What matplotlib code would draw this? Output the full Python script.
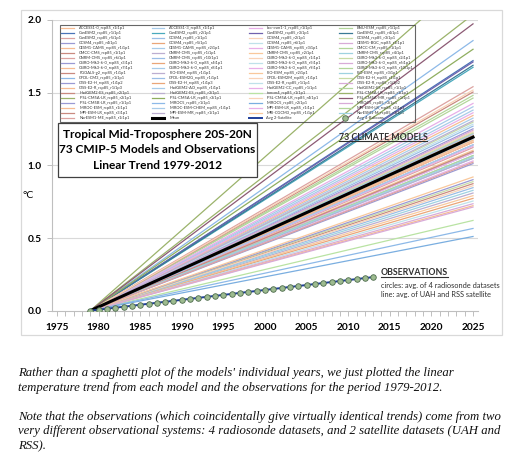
import numpy as np
import matplotlib
matplotlib.use("Agg")
import matplotlib.pyplot as plt
from matplotlib.lines import Line2D
from matplotlib.patches import Rectangle

# ---------------- data ----------------
model_names = [
    "ACCESS1-0_rcp85_r1i1p1", "ACCESS1-3_rcp85_r1i1p1", "bcc-csm1-1_rcp85_r1i1p1", "BNU-ESM_rcp85_r1i1p1",
    "CanESM2_rcp85_r1i1p1", "CanESM2_rcp85_r2i1p1", "CanESM2_rcp85_r3i1p1", "CanESM2_rcp85_r4i1p1",
    "CanESM2_rcp85_r5i1p1", "CCSM4_rcp85_r1i1p1", "CCSM4_rcp85_r2i1p1", "CCSM4_rcp85_r3i1p1",
    "CCSM4_rcp85_r4i1p1", "CCSM4_rcp85_r5i1p1", "CCSM4_rcp85_r6i1p1", "CESM1-BGC_rcp85_r1i1p1",
    "CESM1-CAM5_rcp85_r1i1p1", "CESM1-CAM5_rcp85_r2i1p1", "CESM1-CAM5_rcp85_r3i1p1", "CMCC-CM_rcp85_r1i1p1",
    "CMCC-CMS_rcp85_r1i1p1", "CNRM-CM5_rcp85_r1i1p1", "CNRM-CM5_rcp85_r2i1p1", "CNRM-CM5_rcp85_r4i1p1",
    "CNRM-CM5_rcp85_r6i1p1", "CNRM-CM5_rcp85_r10i1p1", "CSIRO-Mk3-6-0_rcp85_r1i1p1", "CSIRO-Mk3-6-0_rcp85_r2i1p1",
    "CSIRO-Mk3-6-0_rcp85_r3i1p1", "CSIRO-Mk3-6-0_rcp85_r4i1p1", "CSIRO-Mk3-6-0_rcp85_r5i1p1", "CSIRO-Mk3-6-0_rcp85_r6i1p1",
    "CSIRO-Mk3-6-0_rcp85_r7i1p1", "CSIRO-Mk3-6-0_rcp85_r8i1p1", "CSIRO-Mk3-6-0_rcp85_r9i1p1", "CSIRO-Mk3-6-0_rcp85_r10i1p1",
    "FGOALS-g2_rcp85_r1i1p1", "FIO-ESM_rcp85_r1i1p1", "FIO-ESM_rcp85_r2i1p1", "FIO-ESM_rcp85_r3i1p1",
    "GFDL-CM3_rcp85_r1i1p1", "GFDL-ESM2G_rcp85_r1i1p1", "GFDL-ESM2M_rcp85_r1i1p1", "GISS-E2-H_rcp85_r1i1p1",
    "GISS-E2-H_rcp85_r1i1p2", "GISS-E2-H_rcp85_r1i1p3", "GISS-E2-R_rcp85_r1i1p1", "GISS-E2-R_rcp85_r1i1p2",
    "GISS-E2-R_rcp85_r1i1p3", "HadGEM2-AO_rcp85_r1i1p1", "HadGEM2-CC_rcp85_r1i1p1", "HadGEM2-ES_rcp85_r1i1p1",
    "HadGEM2-ES_rcp85_r2i1p1", "HadGEM2-ES_rcp85_r3i1p1", "inmcm4_rcp85_r1i1p1", "IPSL-CM5A-LR_rcp85_r1i1p1",
    "IPSL-CM5A-LR_rcp85_r2i1p1", "IPSL-CM5A-LR_rcp85_r3i1p1", "IPSL-CM5A-LR_rcp85_r4i1p1", "IPSL-CM5A-MR_rcp85_r1i1p1",
    "IPSL-CM5B-LR_rcp85_r1i1p1", "MIROC5_rcp85_r1i1p1", "MIROC5_rcp85_r2i1p1", "MIROC5_rcp85_r3i1p1",
    "MIROC-ESM_rcp85_r1i1p1", "MIROC-ESM-CHEM_rcp85_r1i1p1", "MPI-ESM-LR_rcp85_r1i1p1", "MPI-ESM-LR_rcp85_r2i1p1",
    "MPI-ESM-LR_rcp85_r3i1p1", "MPI-ESM-MR_rcp85_r1i1p1", "MRI-CGCM3_rcp85_r1i1p1", "NorESM1-M_rcp85_r1i1p1",
    "NorESM1-ME_rcp85_r1i1p1",
]

model_trends = [
    0.262, 0.288, 0.224, 0.318,
    0.374, 0.364, 0.372, 0.367,
    0.335, 0.276, 0.268, 0.282,
    0.272, 0.265, 0.279, 0.258,
    0.292, 0.300, 0.296, 0.238,
    0.252, 0.236, 0.240, 0.232,
    0.244, 0.228, 0.254, 0.266,
    0.248, 0.262, 0.256, 0.270,
    0.252, 0.264, 0.246, 0.260,
    0.190, 0.176, 0.172, 0.180,
    0.404, 0.184, 0.187, 0.193,
    0.196, 0.168, 0.164, 0.160,
    0.157, 0.305, 0.310, 0.322,
    0.327, 0.284, 0.135, 0.504,
    0.443, 0.391, 0.330, 0.429,
    0.220, 0.123, 0.111, 0.155,
    0.255, 0.248, 0.236, 0.232,
    0.238, 0.228, 0.200, 0.230,
    0.222,
]

mean_label = "Mean"
satellite_label = "Avg 2-Satellite"
balloon_label = "Avg 4-Balloons"
satellite_trend = 0.068   # deg C per decade
balloon_trend = 0.068     # deg C per decade
obs_years = list(range(1979, 2014))
start_year = 1979
end_year = 2025

x_ticks = [1975, 1980, 1985, 1990, 1995, 2000, 2005, 2010, 2015, 2020, 2025]
y_ticks = [0.0, 0.5, 1.0, 1.5, 2.0]
y_ticklabels = ["0.0", "0.5", "1.0", "1.5", "2.0"]

title_lines = ["Tropical Mid-Troposphere 20S-20N",
               "73 CMIP-5 Models and Observations",
               "Linear Trend 1979-2012"]
caption_lines = [
    "Rather than a spaghetti plot of the models' individual years, we just plotted the linear",
    "temperature trend from each model and the observations for the period 1979-2012.",
    "Note that the observations (which coincidentally give virtually identical trends) come from two",
    "very different observational systems: 4 radiosonde datasets, and 2 satellite datasets (UAH and",
    "RSS).",
]

# ---------------- style ----------------
palette = ['#f6bc94', '#a8cbe9', '#e8afe8', '#b3d69b', '#c98a80', '#bcaed0',
           '#f9c89c', '#9fd2e0', '#dca3a1', '#9abde6', '#f9d3b8', '#c8dba6',
           '#9a9ad4', '#eaa678', '#bfe1ea', '#d8abd8']
colors = [palette[i % len(palette)] for i in range(len(model_names))]
special = {
    "CanESM2_rcp85_r1i1p1": '#4a74b8', "CanESM2_rcp85_r2i1p1": '#4aaabd',
    "CanESM2_rcp85_r3i1p1": '#7062ae', "CanESM2_rcp85_r4i1p1": '#3a7a96',
    "GFDL-CM3_rcp85_r1i1p1": '#8db9e8', "inmcm4_rcp85_r1i1p1": '#b9e3a3',
    "IPSL-CM5A-LR_rcp85_r1i1p1": '#9bb36b', "IPSL-CM5A-LR_rcp85_r2i1p1": '#9bb36b',
    "IPSL-CM5A-LR_rcp85_r3i1p1": '#8fae5f', "IPSL-CM5A-MR_rcp85_r1i1p1": '#8c5a74',
    "MIROC5_rcp85_r1i1p1": '#8db9e8', "MIROC5_rcp85_r2i1p1": '#7aaee0',
}
for i, n in enumerate(model_names):
    if n in special:
        colors[i] = special[n]

W, H = 519, 465
fig = plt.figure(figsize=(W / 100, H / 100), dpi=100)
fig.patch.set_facecolor('white')

# outer chart border
fig.patches.append(Rectangle((21 / W, 1 - 335 / H), 481 / W, 325 / H, transform=fig.transFigure,
                             fill=False, ec='#d9d9d9', lw=0.9))

ax = fig.add_axes([52 / W, 1 - 310.7 / H, 426 / W, 290.7 / H])
ax.set_xlim(1974.4, 2025.6)
ax.set_ylim(0, 2.0)

sans = ['Lato', 'DejaVu Sans']

xs = np.array([start_year, end_year], dtype=float)
handles = []
for name, t, c in zip(model_names, model_trends, colors):
    h, = ax.plot(xs, t / 10.0 * (xs - start_year), color=c, lw=0.9, zorder=2, label=name)
    handles.append(h)

mean_trend = float(np.mean(model_trends))
h_mean, = ax.plot(xs, mean_trend / 10.0 * (xs - start_year), color='black', lw=2.2, zorder=3,
                  label=mean_label)

oy = np.array(obs_years, dtype=float)
h_sat, = ax.plot(oy, satellite_trend / 10.0 * (oy - start_year), color='#1f3f9a', lw=1.4, zorder=4,
                 label=satellite_label)
h_bal, = ax.plot(oy, balloon_trend / 10.0 * (oy - start_year), ls='none', marker='o', ms=4.0,
                 mfc='#9dbb8f', mec='#4d6b4d', mew=0.6, zorder=5, label=balloon_label)

# grid / axes
for y in y_ticks[1:]:
    ax.axhline(y, color='#d9d9d9', lw=0.8, zorder=0)
for s in ['top', 'right']:
    ax.spines[s].set_visible(False)
ax.spines['left'].set_color('#bfbfbf')
ax.spines['bottom'].set_color('#bfbfbf')
ax.spines['left'].set_linewidth(0.8)
ax.spines['bottom'].set_linewidth(0.8)

ax.set_xticks(x_ticks)
ax.set_xticks(range(1975, 2026), minor=True)
ax.set_xticklabels([str(v) for v in x_ticks], fontsize=7.3, fontweight='bold', family=sans)
ax.set_yticks(y_ticks)
ax.set_yticklabels(y_ticklabels, fontsize=7.3, fontweight='bold', family=sans)
ax.tick_params(axis='x', which='both', direction='out', length=3.5, color='#bfbfbf', width=0.7, pad=5)
ax.tick_params(axis='y', which='major', direction='out', length=3.5, color='#bfbfbf', width=0.7, pad=4)

ax.text(-0.056, 0.3946, "°C", transform=ax.transAxes, fontsize=7.5, family=sans,
        ha='center', va='center')

# legend (row-major order like the original)
all_h = handles + [h_mean, h_sat, h_bal]
ncol = 4
nrow = int(np.ceil(len(all_h) / ncol))
ordered = []
for c in range(ncol):
    for r in range(nrow):
        k = r * ncol + c
        if k < len(all_h):
            ordered.append(all_h[k])
leg = ax.legend(handles=ordered, labels=[h.get_label() for h in ordered], ncol=ncol,
                loc='upper left', bbox_to_anchor=(0.0188, 0.0, 0.833, 0.983), mode='expand',
                labelspacing=0.25, handlelength=3.2, handletextpad=1.2,
                borderpad=0.35, borderaxespad=0.0, frameon=True, fancybox=False,
                prop={'family': sans, 'size': 2.9})
leg.get_frame().set_facecolor('none')
leg.get_frame().set_edgecolor('#404040')
leg.get_frame().set_linewidth(0.8)
leg.set_zorder(6)
for txt in leg.get_texts():
    txt.set_color('#333333')

# title box
ax.add_patch(Rectangle((0.014, 0.46), 0.467, 0.1857, transform=ax.transAxes, facecolor='white',
                       edgecolor='#404040', lw=0.9, zorder=7))
for yy, line in zip([0.6047, 0.5531, 0.4981], title_lines):
    ax.text(0.2475, yy, line, transform=ax.transAxes, ha='center', va='center', fontsize=8.6,
            fontweight='bold', family=sans, zorder=8)

t1 = ax.text(0.777, 0.597, "73 CLIMATE MODELS", transform=ax.transAxes, ha='center', va='center',
             fontsize=6.3, fontweight='bold', family=sans, color='#303030', zorder=8)
t2 = ax.text(0.772, 0.1297, "OBSERVATIONS", transform=ax.transAxes, ha='left', va='center',
             fontsize=6.3, fontweight='bold', family=sans, color='#303030', zorder=8)
ax.text(0.772, 0.0884, "circles: avg. of 4 radiosonde datasets", transform=ax.transAxes, ha='left',
        va='center', fontsize=5.3, family=sans, color='#303030', clip_on=False, zorder=8)
ax.text(0.772, 0.0557, "line: avg. of UAH and RSS satellite", transform=ax.transAxes, ha='left',
        va='center', fontsize=5.3, family=sans, color='#303030', clip_on=False, zorder=8)

# underline the two bold labels
fig.canvas.draw()
inv = fig.transFigure.inverted()
for t in (t1, t2):
    bb = t.get_window_extent()
    (x0, y0), (x1, _) = inv.transform([(bb.x0, bb.y0), (bb.x1, bb.y1)])
    fig.add_artist(Line2D([x0, x1], [y0 + 0.5 / H, y0 + 0.5 / H], transform=fig.transFigure,
                          color='#303030', lw=0.8))

# caption
serif = ['Liberation Serif', 'DejaVu Serif']
for yy, line in zip([373.3, 387.7, 416.7, 430.7, 446], caption_lines):
    fig.text(18 / W, 1 - yy / H, line, ha='left', va='center', fontsize=9.2, style='italic',
             family=serif, color='#111111')

fig.savefig("out.png", dpi=100, facecolor='white')
